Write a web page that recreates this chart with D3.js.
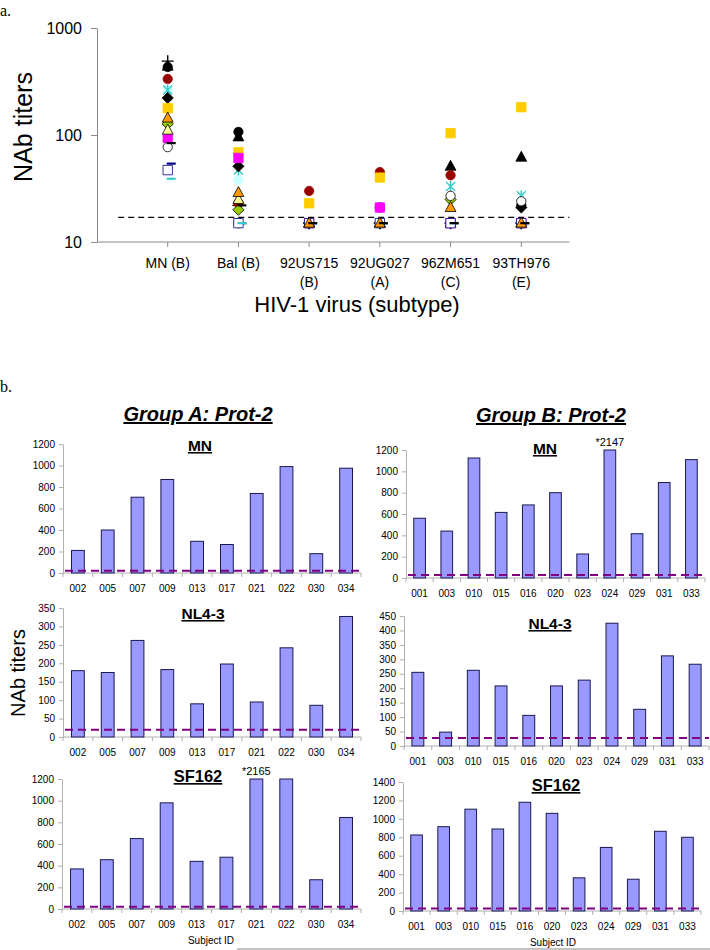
<!DOCTYPE html>
<html>
<head>
<meta charset="utf-8">
<script src="https://cdn.jsdelivr.net/npm/d3@7"></script>
<style>
  body { margin: 0; background: #fff; }
  svg text { font-family: "Liberation Sans", Arial, sans-serif; fill: #000; }
  .serif { font-family: "Liberation Serif", "Times New Roman", serif !important; }
</style>
</head>
<body>
<svg id="fig" width="710" height="950"></svg>
<script>
// ---------- data: panel a ----------
const viruses = ["MN (B)", "Bal (B)", "92US715 (B)", "92UG027 (A)", "96ZM651 (C)", "93TH976 (E)"];
const virusTickValues = [10, 100, 1000];
const cutoffA = 17;
// one row per subject, one value per virus (same order as viruses)
const subjectTiters = [
  [490, 22, 15, 15, 15, 15],
  [432, 107, 15, 21, 15, 22],
  [440, 96, 15, 15, 51, 62],
  [334, 23, 30, 45, 42, 15],
  [263, 38, 15, 15, 15, 15],
  [263, 47, 15, 15, 33, 27],
  [222, 51, 15, 15, 15, 21],
  [178, 69, 23, 40, 104, 182],
  [94, 61, 15, 21, 15, 15],
  [127, 20, 15, 15, 25, 15],
  [111, 25, 15, 15, 15, 15],
  [77, 15, 15, 15, 27, 24],
  [54, 15, 15, 15, 15, 15],
  [47, 15, 15, 15, 15, 15],
  [39, 15, 15, 15, 15, 15],
  [144, 29, 15, 15, 21, 15],
  [84, 22, 15, 15, 15, 15]
];
// marker look for each subject row above
const markerStyles = [
  {shape: "plus", fill: "none", stroke: "#000"},
  {shape: "circle", fill: "#000", stroke: "#000"},
  {shape: "triangle", fill: "#000", stroke: "#000"},
  {shape: "circle", fill: "#990000", stroke: "#990000"},
  {shape: "circle", fill: "#ccffff", stroke: "#ccffff"},
  {shape: "star", fill: "none", stroke: "#33cccc"},
  {shape: "diamond", fill: "#000", stroke: "#000"},
  {shape: "square", fill: "#ffcc00", stroke: "#ffcc00"},
  {shape: "square", fill: "#ff00ff", stroke: "#ff00ff"},
  {shape: "diamond", fill: "#99cc00", stroke: "#000"},
  {shape: "triangle", fill: "#ffff99", stroke: "#000"},
  {shape: "circle", fill: "#fff", stroke: "#000"},
  {shape: "dash", fill: "none", stroke: "#000080"},
  {shape: "square", fill: "#fff", stroke: "#000080"},
  {shape: "dash", fill: "none", stroke: "#33cccc"},
  {shape: "triangle", fill: "#ff9900", stroke: "#000"},
  {shape: "dash", fill: "none", stroke: "#000"}
];

// ---------- data: panel b ----------
const groupASubjects = ["002", "005", "007", "009", "013", "017", "021", "022", "030", "034"];
const groupBSubjects = ["001", "003", "010", "015", "016", "020", "023", "024", "029", "031", "033"];
const groupA_MN = [210, 400, 705, 870, 295, 265, 740, 990, 180, 975];
const groupA_NL43 = [180, 175, 262, 183, 90, 198, 95, 242, 86, 327];
const groupA_SF162 = [370, 455, 650, 980, 440, 478, 2165, 1200, 270, 845];
const groupB_MN = [560, 440, 1125, 615, 685, 800, 225, 2147, 415, 895, 1110];
const groupB_NL43 = [255, 48, 262, 208, 106, 208, 228, 425, 127, 312, 283];
const groupB_SF162 = [825, 915, 1105, 890, 1180, 1060, 360, 690, 345, 865, 800];
const cutoffGroupA = 20;
const cutoffGroupB = 28;

const svg = d3.select("#fig");

// ================= panel a =================
svg.append("text").attr("class", "serif").attr("x", 0).attr("y", 16)
  .style("font-size", "16px").text("a.");

const xa = d3.scalePoint().domain(viruses).range([97, 592]).padding(1);
const ya = d3.scaleLog().domain([10, 1000]).range([242, 28]);

const yAxisA = svg.append("g")
  .attr("transform", "translate(97,0)")
  .call(d3.axisLeft(ya).tickValues(virusTickValues).tickFormat(d3.format("d"))
    .tickSize(6).tickSizeOuter(0).tickPadding(9));
yAxisA.selectAll("path, line").attr("stroke", "#8a8a8a");
yAxisA.selectAll("text").style("font-size", "16px").style("font-family", "'Liberation Sans', Arial, sans-serif");

const xEnd = xa(viruses[viruses.length - 1]) + xa.step() * 0.68;
svg.append("line")
  .attr("x1", 97).attr("x2", xEnd)
  .attr("y1", ya(10)).attr("y2", ya(10))
  .attr("stroke", "#8a8a8a");

svg.selectAll(".xtickA")
  .data(viruses)
  .enter().append("line")
  .attr("x1", d => xa(d)).attr("x2", d => xa(d))
  .attr("y1", ya(10)).attr("y2", ya(10) + 5)
  .attr("stroke", "#8a8a8a");

const vLabels = svg.selectAll(".vlabel")
  .data(viruses)
  .enter().append("text")
  .attr("text-anchor", "middle")
  .style("font-size", "14px");
vLabels.each(function(d) {
  const parts = d.split(" ");
  const t = d3.select(this);
  if (parts[0] === "MN" || parts[0] === "Bal") {
    t.append("tspan").attr("x", xa(d)).attr("y", 268).text(d);
  } else {
    t.append("tspan").attr("x", xa(d)).attr("y", 268).text(parts[0]);
    t.append("tspan").attr("x", xa(d)).attr("y", 287).text(parts[1]);
  }
});

svg.append("text")
  .attr("transform", "translate(32,127) rotate(-90)")
  .attr("text-anchor", "middle")
  .style("font-size", "25px")
  .text("NAb titers");

svg.append("text")
  .attr("x", 357).attr("y", 312)
  .attr("text-anchor", "middle")
  .style("font-size", "22px")
  .text("HIV-1 virus (subtype)");

// cutoff line
svg.append("line")
  .attr("x1", xa(viruses[0]) - xa.step() * 0.7).attr("x2", xEnd)
  .attr("y1", ya(cutoffA)).attr("y2", ya(cutoffA))
  .attr("stroke", "#000").attr("stroke-width", 1.2)
  .attr("stroke-dasharray", "6,4");

function markerPath(shape) {
  switch (shape) {
    case "circle": return d3.symbol(d3.symbolCircle, 68)();
    case "square": return "M-4.7,-4.7H4.7V4.7H-4.7Z";
    case "triangle": return "M0,-6L5.4,4L-5.4,4Z";
    case "diamond": return "M0,-5.6L5.6,0L0,5.6L-5.6,0Z";
    case "plus": return "M-6,0H6M0,-6V6";
    case "star": return "M-4.5,-4.5L4.5,4.5M-4.5,4.5L4.5,-4.5M0,-5.5V5.5";
    case "dash": return "M-1,0H8";
  }
}

const points = [];
subjectTiters.forEach((row, i) => {
  row.forEach((v, j) => points.push({virus: viruses[j], value: v, style: markerStyles[i]}));
});

svg.append("g").selectAll("path")
  .data(points)
  .enter().append("path")
  .attr("transform", d => `translate(${xa(d.virus)},${ya(d.value)})`)
  .attr("d", d => markerPath(d.style.shape))
  .attr("fill", d => d.style.fill)
  .attr("stroke", d => d.style.stroke)
  .attr("stroke-width", d => d.style.shape === "dash" ? 2.2 : (d.style.shape === "plus" || d.style.shape === "star") ? 1.4 : 0.8);

// ================= panel b =================
svg.append("text").attr("class", "serif").attr("x", 0).attr("y", 392)
  .style("font-size", "16px").text("b.");

svg.append("text").attr("x", 198).attr("y", 421)
  .attr("text-anchor", "middle")
  .attr("text-decoration", "underline")
  .style("font-size", "20px").style("font-weight", "bold").style("font-style", "italic")
  .text("Group A: Prot-2");
svg.append("text").attr("x", 551).attr("y", 422)
  .attr("text-anchor", "middle")
  .attr("text-decoration", "underline")
  .style("font-size", "20px").style("font-weight", "bold").style("font-style", "italic")
  .text("Group B: Prot-2");

svg.append("text")
  .attr("transform", "translate(25,673) rotate(-90)")
  .attr("text-anchor", "middle")
  .style("font-size", "20px")
  .text("NAb titers");

const panels = [
  {subjects: groupASubjects, values: groupA_MN, yMax: 1200, yStep: 200, x0: 63, x1: 361, yBottom: 573, yTop: 444, title: "MN", tx: 200, ty: 451, tsize: 15.5, cutoff: cutoffGroupA},
  {subjects: groupASubjects, values: groupA_NL43, yMax: 350, yStep: 50, x0: 63, x1: 361, yBottom: 737, yTop: 608, title: "NL4-3", tx: 203, ty: 619, tsize: 15.5, cutoff: cutoffGroupA},
  {subjects: groupASubjects, values: groupA_SF162, yMax: 1200, yStep: 200, x0: 62, x1: 361, yBottom: 909, yTop: 779, title: "SF162", tx: 198, ty: 782, tsize: 16.5, cutoff: cutoffGroupA, xlabel: 211},
  {subjects: groupBSubjects, values: groupB_MN, yMax: 1200, yStep: 200, x0: 406, x1: 705, yBottom: 578, yTop: 450, title: "MN", tx: 545, ty: 454, tsize: 15.5, cutoff: cutoffGroupB},
  {subjects: groupBSubjects, values: groupB_NL43, yMax: 450, yStep: 50, x0: 404, x1: 709, yBottom: 746, yTop: 616, title: "NL4-3", tx: 550, ty: 629, tsize: 15.5, cutoff: cutoffGroupB},
  {subjects: groupBSubjects, values: groupB_SF162, yMax: 1400, yStep: 200, x0: 403, x1: 701, yBottom: 911, yTop: 782, title: "SF162", tx: 556, ty: 791, tsize: 16.5, cutoff: cutoffGroupB, xlabel: 553}
];

panels.forEach(renderBarPanel);

function renderBarPanel(p) {
  const g = svg.append("g");
  const x = d3.scaleBand()
    .domain(p.subjects)
    .range([p.x0, p.x1])
    .paddingInner(0.57)
    .paddingOuter(0.285);
  const y = d3.scaleLinear()
    .domain([0, p.yMax])
    .range([p.yBottom, p.yTop])
    .clamp(true);

  const yAxis = g.append("g")
    .attr("transform", `translate(${p.x0},0)`)
    .call(d3.axisLeft(y).tickValues(d3.range(0, p.yMax + 1, p.yStep))
      .tickFormat(d3.format("d"))
      .tickSize(4).tickSizeOuter(0).tickPadding(4));
  yAxis.selectAll("path, line").attr("stroke", "#b0b0b0");
  yAxis.selectAll("text").style("font-size", "10px").style("font-family", "'Liberation Sans', Arial, sans-serif");

  // x axis line with ticks between categories
  g.append("line")
    .attr("x1", p.x0).attr("x2", p.x1)
    .attr("y1", p.yBottom).attr("y2", p.yBottom)
    .attr("stroke", "#b0b0b0");
  g.selectAll(".sep")
    .data(d3.range(p.subjects.length + 1))
    .enter().append("line")
    .attr("x1", i => p.x0 + i * x.step()).attr("x2", i => p.x0 + i * x.step())
    .attr("y1", p.yBottom).attr("y2", p.yBottom + 4)
    .attr("stroke", "#b0b0b0");

  const xAxis = g.append("g")
    .attr("transform", `translate(0,${p.yBottom})`)
    .call(d3.axisBottom(x).tickSize(0).tickPadding(12));
  xAxis.select(".domain").remove();
  xAxis.selectAll("text").style("font-size", "10px").style("font-family", "'Liberation Sans', Arial, sans-serif");

  g.selectAll(".bar")
    .data(p.subjects.map((s, i) => ({subject: s, value: p.values[i]})))
    .enter().append("rect")
    .attr("class", "bar")
    .attr("x", d => x(d.subject))
    .attr("y", d => y(d.value))
    .attr("width", x.bandwidth())
    .attr("height", d => p.yBottom - y(d.value))
    .attr("fill", "#9999ff")
    .attr("stroke", "#1a1a50")
    .attr("stroke-width", 1);

  // clipped bars get their real value written above
  g.selectAll(".over")
    .data(p.subjects.map((s, i) => ({subject: s, value: p.values[i]})).filter(d => d.value > p.yMax))
    .enter().append("text")
    .attr("x", d => x(d.subject) + x.bandwidth() / 2)
    .attr("y", p.yTop - 4)
    .attr("text-anchor", "middle")
    .style("font-size", "11px")
    .text(d => "*" + d.value);

  g.append("line")
    .attr("x1", p.x0 + 2).attr("x2", p.x1)
    .attr("y1", y(p.cutoff)).attr("y2", y(p.cutoff))
    .attr("stroke", "#800080").attr("stroke-width", 2)
    .attr("stroke-dasharray", "8,5");

  g.append("text")
    .attr("x", p.tx).attr("y", p.ty)
    .attr("text-anchor", "middle")
    .attr("text-decoration", "underline")
    .style("font-size", p.tsize + "px").style("font-weight", "bold")
    .text(p.title);

  if (p.xlabel) {
    g.append("text")
      .attr("x", p.xlabel).attr("y", p.yBottom + 35)
      .attr("text-anchor", "middle")
      .style("font-size", "10px")
      .text("Subject ID");
  }
}

svg.append("line")
  .attr("x1", 237).attr("x2", 710)
  .attr("y1", 949).attr("y2", 949)
  .attr("stroke", "#888");
</script>
</body>
</html>
